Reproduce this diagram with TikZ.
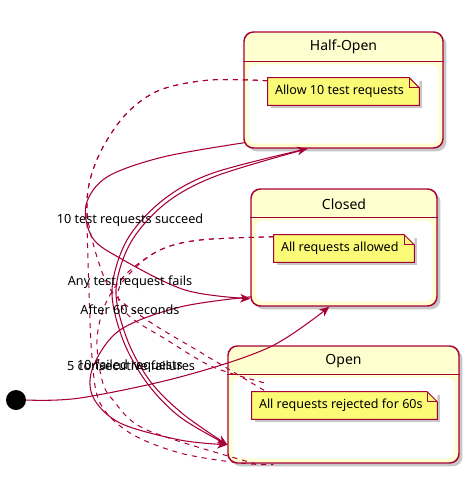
\documentclass[tikz,border=0pt]{standalone}
\usepackage{fontspec}
\setmainfont{Noto Sans}
\usetikzlibrary{arrows.meta,calc,shadows}
\definecolor{pline}{HTML}{A80036}
\definecolor{pstate}{HTML}{FEFECE}
\definecolor{pnote}{HTML}{FBFB77}
\begin{document}
\begin{tikzpicture}[x=0.75pt,y=-0.75pt,
  statebox/.style={draw=pline, line width=1.1pt, fill=pstate, rounded corners=7pt, inner sep=0pt,
    drop shadow={shadow xshift=2.5pt, shadow yshift=-2.5pt, fill=black, opacity=0.22}},
  innerwhite/.style={fill=white, rounded corners=6pt},
  divider/.style={draw=pline, line width=1pt},
  titletext/.style={font=\fontsize{10.5pt}{12pt}\selectfont, inner sep=0pt},
  notebox/.style={fill=pnote, inner sep=0pt, minimum height=20.25pt,
    drop shadow={shadow xshift=2.5pt, shadow yshift=-2.5pt, fill=black, opacity=0.22}},
  notetext/.style={font=\fontsize{9.4pt}{11pt}\selectfont, inner sep=0pt, anchor=west},
  noteline/.style={draw=pline, line width=0.75pt},
  lbl/.style={font=\fontsize{9.5pt}{11pt}\selectfont, inner sep=0pt},
  edge/.style={draw=pline, line width=0.8pt, -{Stealth[length=7.5pt,width=6.5pt,inset=2.2pt]}},
  notelink/.style={draw=pline, line width=0.75pt, dash pattern=on 3.75pt off 3.75pt},
  dot/.style={circle, fill=black, minimum size=15pt, inner sep=0pt}
]
\useasboundingbox (0,0) rectangle (471,477);

% ---------- states ----------
\node[statebox, minimum width=149.25pt, minimum height=87pt] (half) at (343.5,90) {};
\node[statebox, minimum width=139.5pt, minimum height=87.75pt] (closed) at (344,247.5) {};
\node[statebox, minimum width=173.25pt, minimum height=87.75pt] (open) at (343.5,404.5) {};

\draw[divider] ($(half.north west)+(0,30)$) -- ($(half.north east)+(0,30)$);
\draw[divider] ($(closed.north west)+(0,29)$) -- ($(closed.north east)+(0,29)$);
\draw[divider] ($(open.north west)+(0,29)$) -- ($(open.north east)+(0,29)$);

\fill[innerwhite] ($(half.north west)+(5,33)$) rectangle ($(half.south east)+(-5,-5)$);
\fill[innerwhite] ($(closed.north west)+(5,32)$) rectangle ($(closed.south east)+(-5,-5)$);
\fill[innerwhite] ($(open.north west)+(5,32)$) rectangle ($(open.south east)+(-5,-5)$);

\node[titletext] (halft) at (343.5,47) {Half-Open};
\node[titletext] (closedt) at (344,204) {Closed};
\node[titletext] (opent) at (343.5,361) {Open};

% ---------- notes ----------
\node[notebox, minimum width=113.25pt] (nh) at (343.5,91.5) {};
\node[notebox, minimum width=105pt] (nc) at (344,248.5) {};
\node[notebox, minimum width=138.75pt] (no) at (344.5,405.5) {};

\foreach \n in {nh,nc,no}{
  \fill[white] ($(\n.north east)+(-10,0)$) -- (\n.north east) -- ($(\n.north east)+(0,10)$) -- cycle;
  \draw[noteline] (\n.north west) -- ($(\n.north east)+(-10,0)$) -- ($(\n.north east)+(0,10)$)
     -- (\n.south east) -- (\n.south west) -- cycle;
  \draw[noteline] ($(\n.north east)+(-10,0)$) -- ($(\n.north east)+(-10,10)$) -- ($(\n.north east)+(0,10)$);
}
\node[notetext] (nht) at ($(nh.west)+(7,0)$) {Allow 10 test requests};
\node[notetext] (nct) at ($(nc.west)+(7,0)$) {All requests allowed};
\node[notetext] (not) at ($(no.west)+(7,0)$) {All requests rejected for 60s};

% ---------- initial ----------
\node[dot] (init) at (16,400) {};

% ---------- anchor coordinates ----------
\coordinate (e1e) at ($(closed.south west)+(79,0)$);
\coordinate (e2s) at ($(half.south west)+(1,-6)$);
\coordinate (e2e) at ($(closed.south west)+(0,-8)$);
\coordinate (e3s) at ($(closed.south west)+(1,-10)$);
\coordinate (opl) at ($(open.south west)+(0,-19)$);
\coordinate (hb)  at ($(half.south west)+(64,0)$);
\coordinate (dhs) at ($(nh.north west)+(0,3)$);
\coordinate (dcs) at ($(nc.north west)+(0,2)$);
\coordinate (dh1e) at ($(no.north west)+(13,-1)$);
\coordinate (dc1e) at ($(no.north west)+(16,-8)$);
\coordinate (dh2e) at ($(open.south west)+(46,1)$);
\coordinate (dc2e) at ($(open.south west)+(28,0)$);

% ---------- note links ----------
\draw[notelink] plot[smooth, tension=0.55] coordinates {(dhs) (210,80) (160,90) (127,113) (103,147) (90,180) (87,213) (97,257) (113,293) (150,322) (200,352) (dh1e)};
\draw[notelink] plot[smooth, tension=0.55] coordinates {(dhs) (210,80) (160,90) (127,113) (103,147) (90,180) (87,213) (89,290) (92,357) (100,403) (130,433) (180,453) (240,463) (dh2e)};
\draw[notelink] plot[smooth, tension=0.55] coordinates {(dcs) (200,240) (160,250) (133,270) (118,292) (128,315) (167,340) (213,367) (dc1e)};
\draw[notelink] plot[smooth, tension=0.55] coordinates {(dcs) (200,240) (160,250) (125,275) (105,305) (97,340) (102,380) (113,400) (147,430) (dc2e)};

% ---------- transitions ----------
\draw[edge] plot[smooth, tension=0.55] coordinates {(init.east) (80,398) (180,377) (270,347) (e1e)};
\draw[edge] plot[smooth, tension=0.55] coordinates {(e2s) (163,157) (107,177) (86,205) (92,237) (118,257) (185,290) (e2e)};
\draw[edge] plot[smooth, tension=0.55] coordinates {(e3s) (180,307) (120,330) (93,367) (93,397) (120,423) (180,440) (opl)};
\draw[edge] plot[smooth, tension=0.55] coordinates {(opl) (180,417) (147,383) (123,340) (112,290) (127,240) (163,200) (213,173) (hb)};
\draw[edge] plot[smooth, tension=0.55] coordinates {(hb) (216,176) (166,203) (131,242) (116,290) (127,339) (150,381) (183,414) (opl)};

% ---------- labels ----------
\node[lbl] (l1) at (130,220) {10 test requests succeed};
\node[lbl] (l2) at (130,282) {Any test request fails};
\node[lbl] (l3) at (130,310) {After 60 seconds};
\node[lbl] (l4) at (131,366) {5 consecutive failures};
\node[lbl] (l5) at (130,366) {10 failed requests};
\end{tikzpicture}
\end{document}
